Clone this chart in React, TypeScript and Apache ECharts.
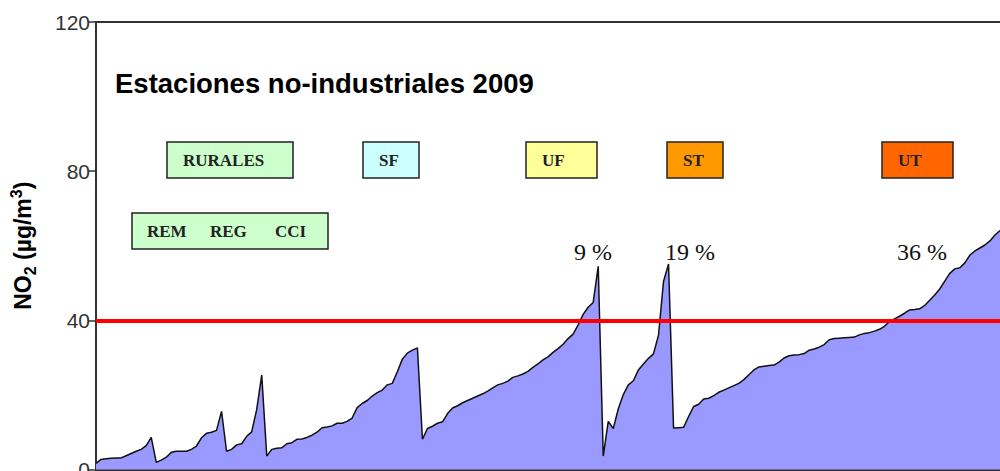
import React, { useEffect, useRef } from "react";
import * as echarts from "echarts";

// NO2 annual means of non-industrial stations (µg/m3), ordered by station type
const no2Values: number[] = [
  1.6, 2.7, 2.9, 3.0, 3.1, 3.1, 3.7, 4.3, 4.9, 5.4,
  6.4, 8.6, 1.9, 2.5, 3.3, 4.6, 4.9, 4.9, 4.9, 5.4,
  6.3, 8.5, 9.7, 10.0, 10.5, 15.6, 4.9, 5.4, 6.6, 6.9,
  8.9, 10.1, 16.1, 25.3, 3.6, 5.4, 5.7, 5.8, 6.9, 7.2,
  8.1, 8.2, 8.6, 9.2, 10.0, 11.2, 11.4, 11.7, 12.4, 12.4,
  12.9, 13.8, 16.6, 17.7, 18.5, 19.7, 20.6, 21.3, 22.7, 23.1,
  26.2, 29.6, 31.2, 32.0, 32.6, 8.1, 11.0, 11.6, 12.4, 12.8,
  15.0, 16.5, 17.1, 17.9, 18.5, 19.1, 19.7, 20.3, 21.0, 21.9,
  22.7, 23.1, 23.7, 24.7, 25.1, 25.6, 26.3, 27.4, 28.3, 29.4,
  30.2, 31.4, 32.4, 33.6, 35.1, 36.3, 38.8, 41.6, 43.5, 44.8,
  54.5, 3.6, 12.9, 11.0, 16.3, 20.1, 22.7, 23.8, 26.7, 28.3,
  29.8, 31.0, 36.0, 50.4, 55.1, 11.1, 11.2, 11.3, 14.2, 16.9,
  17.5, 18.9, 19.1, 19.8, 20.7, 21.3, 21.9, 22.5, 23.1, 24.1,
  25.4, 26.7, 27.5, 27.7, 27.9, 28.0, 28.8, 29.9, 30.5, 30.7,
  30.8, 31.1, 32.0, 32.3, 32.8, 33.5, 34.8, 35.1, 35.2, 35.3,
  35.4, 35.5, 36.1, 36.5, 36.7, 37.1, 37.6, 38.4, 39.7, 40.4,
  41.1, 41.9, 42.8, 42.9, 43.1, 44.0, 45.4, 46.8, 48.4, 50.5,
  52.6, 53.8, 54.1, 55.4, 57.5, 58.6, 59.4, 60.2, 61.3, 62.9,
  64.1,
];

const stationIds: string[] = no2Values.map((_, i) => String(i + 1));

const limitValue = 40;
const yTicks = { min: 0, max: 120, interval: 40 };

const titleText = "Estaciones no-industriales 2009";
const typeBoxes: string[] = ["RURALES", "SF", "UF", "ST", "UT"];
const ruralSubtypes: string[] = ["REM", "REG", "CCI"];
const exceedLabels: string[] = ["9 %", "19 %", "36 %"];

const SANS = "'Liberation Sans', Arial, sans-serif";
const SERIF = "'Liberation Serif', 'Times New Roman', serif";

export default function App() {
  const ref = useRef<HTMLDivElement>(null);

  useEffect(() => {
    if (!ref.current) return;
    const chart = echarts.init(ref.current, undefined, { renderer: "svg" });

    const boxLayout = [
      { x: 167, y: 142, w: 126, h: 36, fill: "#ccffcc" },
      { x: 363, y: 142, w: 56, h: 36, fill: "#ccffff" },
      { x: 526, y: 142, w: 71, h: 36, fill: "#ffff99" },
      { x: 667, y: 142, w: 56, h: 36, fill: "#ff9900" },
      { x: 882, y: 142, w: 71, h: 36, fill: "#ff6600" },
    ];
    const subX = [147, 210, 275];
    const pctX = [574, 665, 897];

    const boxText = (text: string, x: number, y: number) => ({
      type: "text",
      x,
      y,
      style: {
        text,
        fontFamily: SERIF,
        fontWeight: "bold",
        fontSize: 17,
        fill: "#222",
        textVerticalAlign: "middle",
        textAlign: "left",
      },
    });

    const graphics: any[] = [
      {
        type: "text",
        x: 115,
        y: 83,
        style: {
          text: titleText,
          fontFamily: SANS,
          fontWeight: "bold",
          fontSize: 27.5,
          fill: "#000",
          textVerticalAlign: "middle",
        },
      },
    ];
    typeBoxes.forEach((t, i) => {
      const b = boxLayout[i];
      graphics.push({
        type: "rect",
        shape: { x: b.x, y: b.y, width: b.w, height: b.h },
        style: { fill: b.fill, stroke: "#222", lineWidth: 1.5 },
      });
      graphics.push(boxText(t, b.x + 16, b.y + b.h / 2));
    });
    graphics.push({
      type: "rect",
      shape: { x: 132, y: 213, width: 196, height: 36 },
      style: { fill: "#ccffcc", stroke: "#222", lineWidth: 1.5 },
    });
    ruralSubtypes.forEach((t, i) => graphics.push(boxText(t, subX[i], 231)));
    exceedLabels.forEach((t, i) =>
      graphics.push({
        type: "text",
        x: pctX[i],
        y: 252,
        style: {
          text: t,
          fontFamily: SERIF,
          fontSize: 24,
          fill: "#111",
          textVerticalAlign: "middle",
        },
      })
    );

    chart.setOption({
      animation: false,
      backgroundColor: "#fff",
      grid: { left: 96, top: 22, right: 0, bottom: 6.5, containLabel: false },
      xAxis: [
        {
          type: "category",
          data: stationIds,
          boundaryGap: false,
          axisLine: { show: true, lineStyle: { color: "#333", width: 2 } },
          axisTick: { show: false },
          axisLabel: { show: false },
        },
        {
          type: "category",
          data: stationIds,
          position: "top",
          boundaryGap: false,
          axisLine: { show: true, lineStyle: { color: "#333", width: 2 } },
          axisTick: { show: false },
          axisLabel: { show: false },
        },
      ],
      yAxis: {
        type: "value",
        min: yTicks.min,
        max: yTicks.max,
        interval: yTicks.interval,
        axisLine: { show: true, lineStyle: { color: "#333", width: 2 } },
        axisTick: { show: true, length: 8, lineStyle: { color: "#333", width: 1.5 } },
        splitLine: { show: false },
        axisLabel: { fontFamily: SANS, fontSize: 21, color: "#333", margin: 6 },
        name: "{a|NO}{b|2}{a| (µg/m}{c|3}{a|)}",
        nameLocation: "middle",
        nameRotate: 90,
        nameGap: 58,
        nameTextStyle: {
          fontFamily: SANS,
          fontWeight: "bold",
          fontSize: 23,
          color: "#000",
          rich: {
            a: { fontFamily: SANS, fontWeight: "bold", fontSize: 23, lineHeight: 30, color: "#000" },
            b: { fontFamily: SANS, fontWeight: "bold", fontSize: 16, lineHeight: 15, verticalAlign: "bottom", color: "#000" },
            c: { fontFamily: SANS, fontWeight: "bold", fontSize: 16, lineHeight: 15, verticalAlign: "top", color: "#000" },
          },
        },
      },
      series: [
        {
          type: "line",
          data: no2Values,
          symbol: "none",
          lineStyle: { color: "#111", width: 1.5 },
          areaStyle: { color: "#9999ff", opacity: 1 },
          markLine: {
            silent: true,
            symbol: ["none", "none"],
            label: { show: false },
            lineStyle: { color: "#ff0000", width: 4, type: "solid" },
            data: [{ yAxis: limitValue }],
          },
        },
      ],
      graphic: graphics,
    });

    return () => chart.dispose();
  }, []);

  return (
    <div
      style={{ position: "fixed", left: 0, top: 0, width: 1000, height: 471, overflow: "hidden", background: "#fff" }}
    >
      <div ref={ref} style={{ width: 1000, height: 480 }} />
    </div>
  );
}
